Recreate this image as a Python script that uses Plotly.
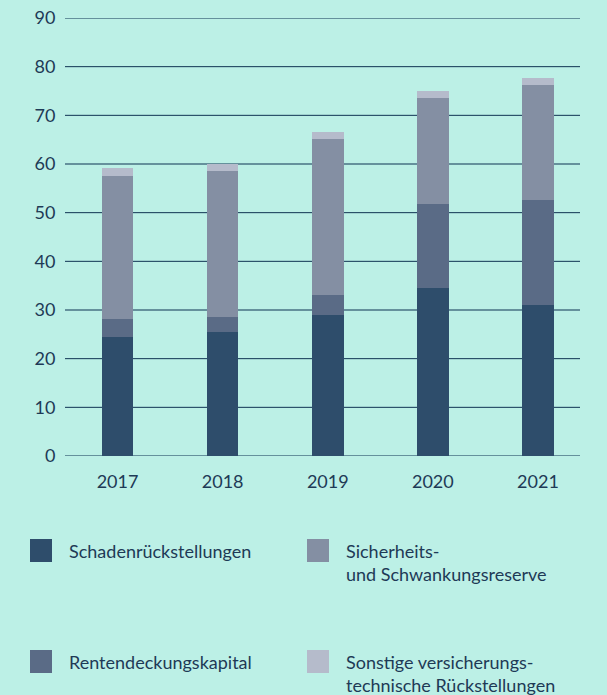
"""
Gestapeltes Säulendiagramm der versicherungstechnischen Rückstellungen 2017-2021.
"""

import plotly.graph_objects as go

jahre = ["2017", "2018", "2019", "2020", "2021"]

schaden = [24.4, 25.5, 29.0, 34.5, 31.0]
renten = [3.7, 3.1, 4.1, 17.3, 21.6]
sicherheit = [29.5, 30.0, 32.0, 21.8, 23.6]
sonstige = [1.6, 1.5, 1.5, 1.4, 1.5]

namen = [
    "Schadenrückstellungen",
    "Rentendeckungskapital",
    "Sicherheits-<br>und Schwankungsreserve",
    "Sonstige versicherungs-<br>technische Rückstellungen",
]
farben = ["#2E4D6B", "#5A6B86", "#848FA3", "#B5BBCB"]

y_marken = list(range(0, 100, 10))

HINTERGRUND = "#BCF0E6"
TEXTFARBE = "#1E3A56"
GITTER = "#0F3352"

W, H = 607, 695
# Zeichenfläche in Pixeln
L, R, T, B = 65, 580, 18, 456
Y_MAX = 90.0


def px_x(x):
    return (x - L) / (R - L)


def px_y(y):
    return (B - y) / (B - T)


fig = go.Figure()

for werte, name, farbe in zip([schaden, renten, sicherheit, sonstige], namen, farben):
    fig.add_trace(
        go.Bar(
            x=jahre,
            y=werte,
            name=name,
            marker_color=farbe,
            marker_line_width=0,
            width=0.3,
            showlegend=False,
        )
    )

# Gitterlinien als Linien über die volle Breite (auch die bei 90)
for wert in y_marken:
    fig.add_hline(y=wert, line_color=GITTER, line_width=1, layer="below")

# Legende von Hand: 2 x 2 Raster
legende_reihenfolge = [0, 2, 1, 3]
spalten_x = [30, 307]
zeilen_y = [539, 650]

for pos, idx in enumerate(legende_reihenfolge):
    sx = spalten_x[pos % 2]
    sy = zeilen_y[pos // 2]
    fig.add_shape(
        type="rect",
        xref="paper",
        yref="paper",
        x0=px_x(sx),
        x1=px_x(sx + 22),
        y0=px_y(sy),
        y1=px_y(sy + 23),
        fillcolor=farben[idx],
        line_width=0,
    )
    fig.add_annotation(
        x=px_x(sx + 37),
        y=px_y(sy - 1),
        xref="paper",
        yref="paper",
        xanchor="left",
        yanchor="top",
        align="left",
        showarrow=False,
        text=namen[idx],
        font=dict(size=18, color=TEXTFARBE),
    )

fig.update_xaxes(
    type="category",
    range=[-0.5, 4.4],
    automargin=False,
    ticks="outside",
    ticklen=9,
    tickcolor="rgba(0,0,0,0)",
    showgrid=False,
    showline=False,
    zeroline=False,
    tickfont=dict(size=18, color=TEXTFARBE),
)

fig.update_yaxes(
    range=[0, Y_MAX],
    automargin=False,
    tickvals=y_marken,
    ticks="outside",
    ticklen=5,
    tickcolor="rgba(0,0,0,0)",
    showgrid=False,
    zeroline=False,
    showline=False,
    tickfont=dict(size=18, color=TEXTFARBE),
)

fig.update_layout(
    barmode="stack",
    width=W,
    height=H,
    font_family="Lato",
    font_color=TEXTFARBE,
    plot_bgcolor=HINTERGRUND,
    paper_bgcolor=HINTERGRUND,
    margin=dict(l=L, r=W - R, t=T, b=H - B, pad=0),
)

fig.write_html(
    "out.html",
    config={"displayModeBar": False},
    post_script="document.body.style.margin='0';document.body.style.background='%s';" % HINTERGRUND,
)
